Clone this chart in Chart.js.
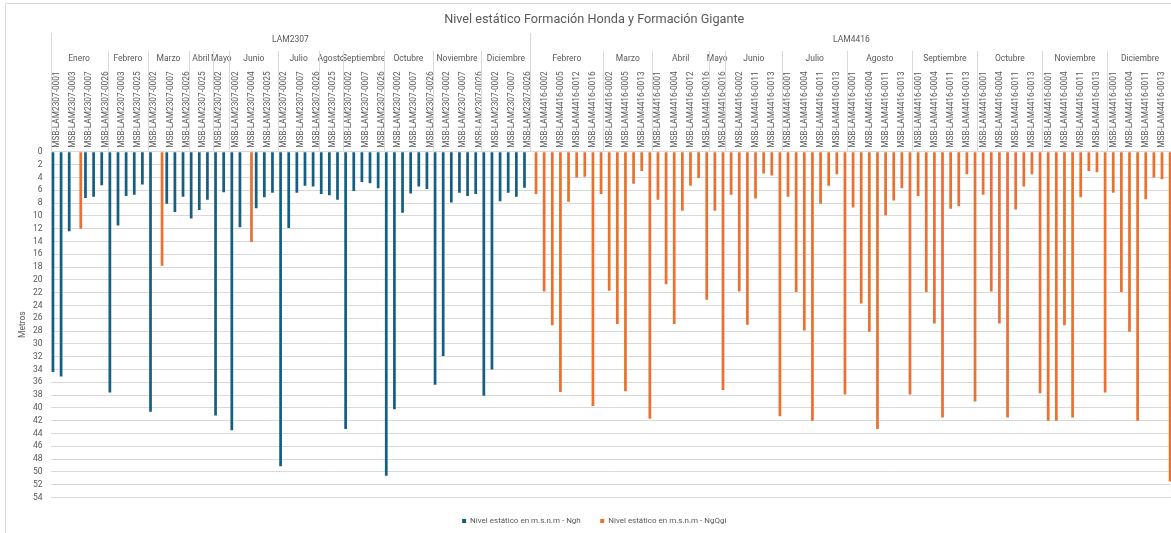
<!DOCTYPE html>
<html>
<head>
<meta charset="utf-8">
<script src="https://cdn.jsdelivr.net/npm/chart.js@4.4.1/dist/chart.umd.min.js"></script>
<style>
  html, body { margin: 0; padding: 0; background: #fff; overflow: hidden; }
  #wrap { position: relative; width: 1171px; height: 533px; overflow: hidden; }
</style>
</head>
<body>
<div id="wrap"><canvas id="chart" width="1174" height="535"></canvas></div>
<script>
// Groups and months (outer category levels)
const groupNames = ['LAM2307', 'LAM4416'];
const months2307 = ['Enero', 'Febrero', 'Marzo', 'Abril', 'Mayo', 'Junio', 'Julio', 'Agosto', 'Septiembre', 'Octubre', 'Noviembre', 'Diciembre'];
const monthCounts2307 = [7, 5, 5, 3, 2, 6, 5, 3, 5, 6, 6, 6];
const months4416 = ['Febrero', 'Marzo', 'Abril', 'Mayo', 'Junio', 'Julio', 'Agosto', 'Septiembre', 'Octubre', 'Noviembre', 'Diciembre'];
const monthCounts4416 = [9, 6, 7, 2, 7, 8, 8, 8, 8, 8, 8];

// Wells (inner category level)
const wells2307 = [
  '0001', '0002', '0003', '0004', '0007', '0025', '0026',
  '0002', '0003', '0007', '0025', '0026',
  '0002', '0004', '0007', '0025', '0026',
  '0007', '0025', '0026',
  '0002', '0007',
  '0002', '0003', '0004', '0007', '0025', '0026',
  '0002', '0003', '0007', '0025', '0026',
  '0007', '0025', '0026',
  '0002', '0003', '0007', '0025', '0026',
  '0001', '0002', '0003', '0007', '0025', '0026',
  '0001', '0002', '0003', '0007', '0025', '0026',
  '0001', '0002', '0003', '0007', '0025', '0026'
];
const wells4416 = [
  '0001', '0002', '0004', '0005', '0011', '0012', '0013', '0016', '0017',
  '0002', '0004', '0005', '0011', '0013', '0016',
  '0001', '0002', '0004', '0011', '0012', '0013', '0016',
  '0011', '0016',
  '0001', '0002', '0004', '0011', '0012', '0013', '0016',
  '0001', '0002', '0004', '0005', '0011', '0012', '0013', '0016',
  '0001', '0002', '0004', '0005', '0011', '0012', '0013', '0016',
  '0001', '0002', '0004', '0005', '0011', '0012', '0013', '0016',
  '0001', '0002', '0004', '0005', '0011', '0012', '0013', '0016',
  '0001', '0002', '0004', '0005', '0011', '0012', '0013', '0016',
  '0001', '0002', '0004', '0005', '0011', '0012', '0013', '0016'
];

// Nivel estatico (m) - Ngh, LAM2307 wells
const ngh2307 = [
  34.4, 35.1, 12.4, null, 7.2, 7.0, 5.2,
  37.6, 11.5, 6.9, 6.7, 5.1,
  40.6, null, 8.1, 9.4, 7.0,
  10.4, 9.1, 7.5,
  41.2, 6.3,
  43.5, 11.8, null, 8.8, 7.1, 6.4,
  49.1, 11.9, 6.4, 5.3, 5.4,
  6.6, 6.8, 7.5,
  43.3, 6.1, 4.7, 4.9, 5.7,
  50.6, 40.2, 9.5, 6.5, 5.4, 5.8,
  36.4, 31.9, 7.9, 6.4, 6.9, 6.6,
  38.1, 34.0, 7.7, 6.4, 7.0, 5.6
];
// Nivel estatico (m) - NgQgi, LAM2307 wells
const ngqgi2307 = [
  null, null, null, 12.0, null, null, null,
  null, null, null, null, null,
  null, 17.8, null, null, null,
  null, null, null,
  null, null,
  null, null, 14.1, null, null, null,
  null, null, null, null, null,
  null, null, null,
  null, null, null, null, null,
  null, null, null, null, null, null,
  null, null, null, null, null, null,
  null, null, null, null, null, null
];
// Nivel estatico (m) - NgQgi, LAM4416 wells
const ngqgi4416 = [
  6.6, 21.8, 27.1, 37.5, 7.8, 4.0, 3.9, 39.7, 6.6,
  21.7, 26.9, 37.4, 5.0, 3.0, 41.7,
  7.5, 20.7, 26.9, 9.2, 5.3, 4.1, 23.1,
  9.2, 37.2,
  6.7, 21.8, 27.0, 7.3, 3.4, 3.7, 41.3,
  7.0, 21.9, 27.9, 42.0, 8.1, 5.3, 3.5, 37.9,
  8.7, 23.7, 28.1, 43.3, 9.9, 7.6, 5.7, 37.9,
  6.9, 21.9, 26.8, 41.5, 8.9, 8.5, 3.5, 39.0,
  6.7, 21.8, 26.8, 41.5, 9.0, 5.4, 3.5, 37.7,
  42.0, 42.0, 27.1, 41.5, 7.1, 3.0, 3.2, 37.6,
  6.4, 21.9, 28.1, 42.0, 7.4, 4.0, 4.3, 51.5
];

const yTicksMax = 54;
const yTickStep = 2;

// build category table for the library
const labels = wells2307.map(w => 'MSB-LAM2307-' + w)
  .concat(wells4416.map(w => 'MSB-LAM4416-' + w));
const nghData = ngh2307.concat(wells4416.map(() => null));
const ngqgiData = ngqgi2307.concat(ngqgi4416);

const groups = [
  { name: groupNames[0], months: months2307, counts: monthCounts2307 },
  { name: groupNames[1], months: months4416, counts: monthCounts4416 }
];

const textColor = '#595959';
const lineColor = '#d9d9d9';

Chart.defaults.font.family = "Roboto, 'Open Sans', sans-serif";
Chart.defaults.color = textColor;

// draws the month and group rows of the multi-level axis
const headerPlugin = {
  id: 'header',
  beforeDraw(chart) {
    const ctx = chart.ctx;
    ctx.save();
    ctx.strokeStyle = lineColor;
    ctx.lineWidth = 1;
    ctx.beginPath();
    ctx.moveTo(5.5, chart.height);
    ctx.lineTo(5.5, 3.5);
    ctx.lineTo(chart.width, 3.5);
    ctx.stroke();
    ctx.restore();
  },
  afterDraw(chart) {
    const { ctx, scales: { x } } = chart;
    const step = x.getPixelForValue(1) - x.getPixelForValue(0);
    const edge = i => x.getPixelForValue(0) + (i - 0.5) * step;
    const bottom = chart.chartArea.top - 1;

    ctx.save();
    ctx.fillStyle = textColor;
    ctx.strokeStyle = lineColor;
    ctx.lineWidth = 1;
    ctx.textAlign = 'center';
    ctx.textBaseline = 'middle';

    let start = 0;
    groups.forEach(g => {
      const total = g.counts.reduce((a, b) => a + b, 0);
      const gl = edge(start), gr = edge(start + total);
      ctx.font = "8.5px Roboto, 'Open Sans', sans-serif";
      ctx.fillText(g.name, (gl + gr) / 2, 40);
      [gl, gr].forEach(px => {
        ctx.beginPath();
        ctx.moveTo(Math.round(px) + 0.5, 33);
        ctx.lineTo(Math.round(px) + 0.5, bottom);
        ctx.stroke();
      });
      let m = start;
      g.months.forEach((name, k) => {
        const ml = edge(m), mr = edge(m + g.counts[k]);
        ctx.fillText(name, (ml + mr) / 2, 59);
        if (k > 0) {
          ctx.beginPath();
          ctx.moveTo(Math.round(ml) + 0.5, 51);
          ctx.lineTo(Math.round(ml) + 0.5, bottom);
          ctx.stroke();
        }
        m += g.counts[k];
      });
      start += total;
    });
    ctx.restore();
  }
};

new Chart(document.getElementById('chart'), {
  type: 'bar',
  data: {
    labels: labels,
    datasets: [
      {
        label: 'Nivel estático en m.s.n.m - Ngh',
        data: nghData,
        backgroundColor: '#156082',
        categoryPercentage: 0.84,
        barPercentage: 0.8
      },
      {
        label: 'Nivel estático en m.s.n.m - NgQgi',
        data: ngqgiData,
        backgroundColor: '#E97132',
        categoryPercentage: 0.84,
        barPercentage: 0.8
      }
    ]
  },
  options: {
    responsive: false,
    animation: false,
    layout: { padding: { left: 16, right: 1.5, top: 0, bottom: 0 } },
    plugins: {
      title: {
        display: true,
        text: 'Nivel estático Formación Honda y Formación Gigante',
        color: textColor,
        font: { size: 12.7, weight: 'normal' },
        padding: { top: 12.7, bottom: 0 }
      },
      legend: {
        position: 'bottom',
        labels: {
          boxWidth: 4,
          boxHeight: 4,
          padding: 19.5,
          color: textColor,
          font: { size: 8 }
        }
      },
      tooltip: { enabled: false }
    },
    scales: {
      x: {
        position: 'top',
        grid: { display: false, drawTicks: false },
        border: { display: false },
        ticks: {
          autoSkip: false,
          minRotation: 90,
          maxRotation: 90,
          padding: 4,
          labelOffset: 12,
          color: textColor,
          font: { size: 8.3 },
          callback: function (v, i) {
            return i % 2 === 0 ? this.getLabelForValue(v) : '';
          }
        },
        afterFit(s) { s.height = 123.9; }
      },
      y: {
        reverse: true,
        min: 0,
        max: yTicksMax,
        grid: { color: lineColor, drawTicks: false },
        border: { display: false },
        ticks: { stepSize: yTickStep, autoSkip: false, padding: 8, color: textColor, font: { size: 8.5 } },
        title: {
          display: true,
          text: 'Metros',
          color: textColor,
          font: { size: 8.5 },
          padding: { top: 1.8, bottom: 0 }
        },
        afterFit(s) { s.width = 34.6; }
      }
    }
  },
  plugins: [headerPlugin]
});
</script>
</body>
</html>
